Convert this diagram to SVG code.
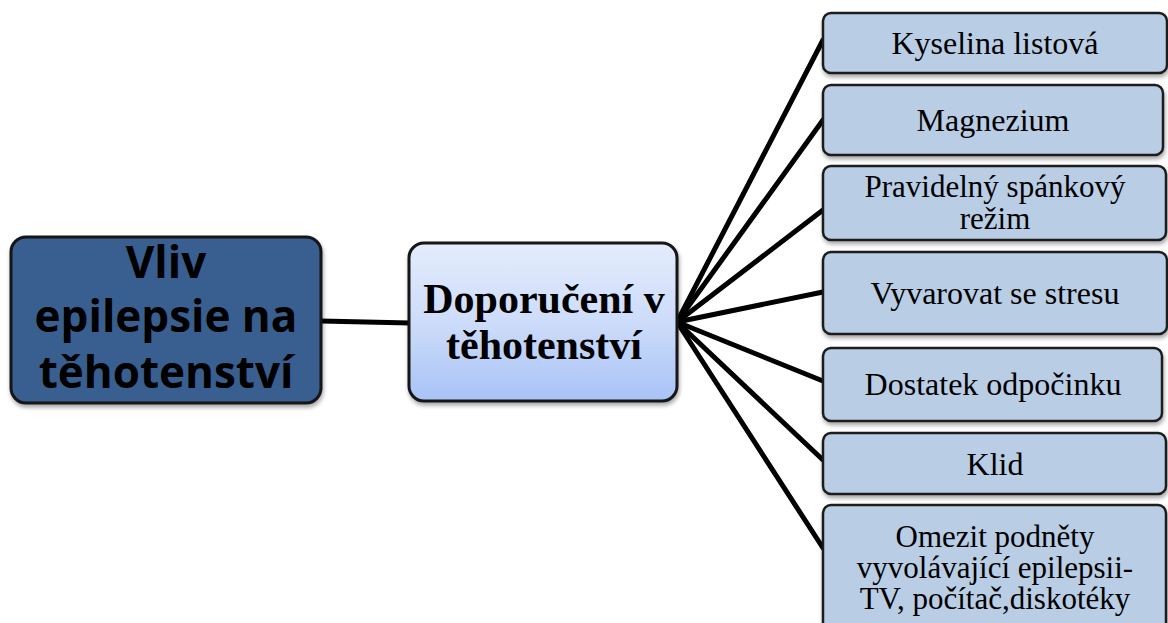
<svg xmlns="http://www.w3.org/2000/svg" width="1168" height="623" viewBox="0 0 1168 623">
  <defs>
    <linearGradient id="midFill" x1="0" y1="0" x2="0" y2="1">
      <stop offset="0" stop-color="#e4ecfc"/>
      <stop offset="0.5" stop-color="#cddcfa"/>
      <stop offset="1" stop-color="#a8c3f6"/>
    </linearGradient>
    <filter id="shadow" x="-10%" y="-10%" width="120%" height="125%">
      <feGaussianBlur in="SourceAlpha" stdDeviation="2"/>
      <feOffset dx="1" dy="3" result="b"/>
      <feComponentTransfer><feFuncA type="linear" slope="0.35"/></feComponentTransfer>
      <feMerge><feMergeNode/><feMergeNode in="SourceGraphic"/></feMerge>
    </filter>
    <style>
      .conn { stroke: #000; stroke-width: 5; fill: none; stroke-linecap: round; }
      .root { fill: #395f8f; stroke: #141414; stroke-width: 3; filter: url(#shadow); }
      .mid { fill: url(#midFill); stroke: #141414; stroke-width: 3; filter: url(#shadow); }
      .leaf { fill: #b9cde5; stroke: #1e1e1e; stroke-width: 2.5; filter: url(#shadow); }
      .rootText { font-family: "Open Sans", "Liberation Sans", sans-serif; font-weight: bold; font-size: 44px; fill: #000; text-anchor: middle; }
      .midText { font-family: "Liberation Serif", "Times New Roman", serif; font-weight: bold; font-size: 42px; fill: #000; text-anchor: middle; }
      .leafText { font-family: "Liberation Serif", "Times New Roman", serif; font-size: 32px; fill: #000; text-anchor: middle; }
      .leafMulti { font-size: 31px; }
    </style>
  </defs>

  <g id="connectors">
    <line class="conn" x1="321" y1="321" x2="410" y2="323"/>
    <line class="conn" x1="677" y1="322" x2="823" y2="40"/>
    <line class="conn" x1="677" y1="322" x2="823" y2="120"/>
    <line class="conn" x1="677" y1="322" x2="823" y2="210"/>
    <line class="conn" x1="677" y1="322" x2="823" y2="292"/>
    <line class="conn" x1="677" y1="322" x2="823" y2="381"/>
    <line class="conn" x1="677" y1="322" x2="823" y2="460"/>
    <line class="conn" x1="677" y1="322" x2="823" y2="548"/>
  </g>

  <g id="node-root">
    <rect class="root" x="11" y="237" width="310" height="166" rx="15"/>
    <text class="rootText"><tspan x="166" y="278">Vliv</tspan><tspan x="166" y="332">epilepsie na</tspan><tspan x="166" y="388">těhotenství</tspan></text>
  </g>

  <g id="node-doporuceni">
    <rect class="mid" x="409" y="243" width="268" height="158" rx="15"/>
    <text class="midText"><tspan x="544" y="313">Doporučení v</tspan><tspan x="544" y="359">těhotenství</tspan></text>
  </g>

  <g id="node-kyselina">
    <rect class="leaf" x="823" y="13" width="344" height="60" rx="8"/>
    <text class="leafText" x="995" y="54">Kyselina listová</text>
  </g>

  <g id="node-magnezium">
    <rect class="leaf" x="823" y="85" width="340" height="70" rx="8"/>
    <text class="leafText" x="993" y="131">Magnezium</text>
  </g>

  <g id="node-spanek">
    <rect class="leaf" x="823" y="166" width="343" height="74" rx="8"/>
    <text class="leafText leafMulti"><tspan x="995" y="197">Pravidelný spánkový</tspan><tspan x="995" y="229">režim</tspan></text>
  </g>

  <g id="node-stres">
    <rect class="leaf" x="823" y="252" width="344" height="82" rx="8"/>
    <text class="leafText" x="995" y="304">Vyvarovat se stresu</text>
  </g>

  <g id="node-odpocinek">
    <rect class="leaf" x="823" y="348" width="339" height="73" rx="8"/>
    <text class="leafText" x="993" y="395">Dostatek odpočinku</text>
  </g>

  <g id="node-klid">
    <rect class="leaf" x="823" y="433" width="343" height="61" rx="8"/>
    <text class="leafText" x="995" y="475">Klid</text>
  </g>

  <g id="node-podnety">
    <rect class="leaf" x="823" y="505" width="343" height="130" rx="8"/>
    <text class="leafText leafMulti"><tspan x="995" y="547">Omezit podněty</tspan><tspan x="995" y="578">vyvolávající epilepsii-</tspan><tspan x="995" y="609">TV, počítač,diskotéky</tspan></text>
  </g>
</svg>
